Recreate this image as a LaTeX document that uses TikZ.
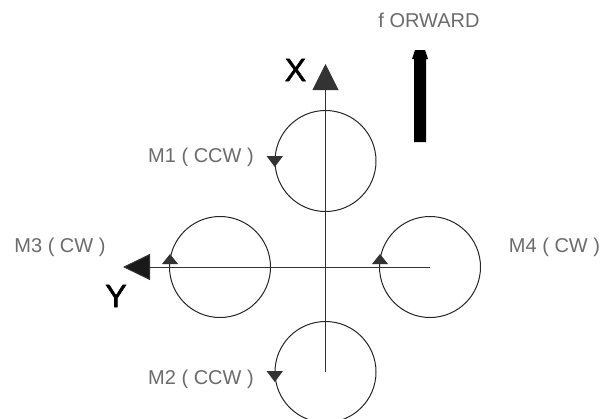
\documentclass[tikz,border=0pt]{standalone}
\usepackage{fontspec}
\setmainfont{Liberation Sans}
\usetikzlibrary{arrows.meta}
\definecolor{tipgray}{gray}{0.2}
\definecolor{labelgray}{gray}{0.42}
\tikzset{
	motor/.style={draw=black!85, line width=1pt, circle, inner sep=0pt, minimum size=101pt},
	axisline/.style={draw=black!80, line width=1pt},
	motorlabel/.style={text=labelgray, font=\fontsize{20}{22}\selectfont},
	axislabel/.style={font=\addfontfeature{FakeBold=1.6}\fontsize{32}{34}\selectfont}
}
\begin{document}
\begin{tikzpicture}[x=1pt, y=-1pt]
		\useasboundingbox (0,0) rectangle (607,418);
		\clip (0,0) rectangle (607,418);
		\node [motor] (m1) at (325.5,161) {};
		\node [motor] (m2) at (325.5,372) {};
		\node [motor] (m3) at (220,267) {};
		\node [motor] (m4) at (430,267) {};
		\coordinate (xtip) at (325.5,64);
		\coordinate (ytip) at (123,267);
		\coordinate (fwdbase) at (420,142);
		% body axes
		\draw [axisline, -{Triangle[length=26pt, width=26pt, fill=tipgray]}] (m2.center) -- (xtip);
		\draw [axisline, -{Triangle[length=27pt, width=26pt, fill=black!90]}] (m4.center) -- (ytip);
		% spin direction marks
		\fill [tipgray] (m1.west) ++(-8,-5) -- ++(16.5,0) -- ++(-8.2,11) -- cycle;
		\fill [tipgray] (m2.west) ++(-8,-1) -- ++(16.5,0) -- ++(-8.2,11) -- cycle;
		\fill [tipgray] (m3.west) ++(-7,-3) -- ++(16,0) -- ++(-8,-10) -- cycle;
		\fill [tipgray] (m4.west) ++(-7,-3) -- ++(16,0) -- ++(-8,-10) -- cycle;
		% forward arrow
		\fill [black] (fwdbase) ++(-6,0) -- (414,59) -- (412,59) -- (415,50) -- (425,50) -- (428,59) -- (426,59) -- (426,142) -- cycle;
		\node [motorlabel] (m1label) at (201,157) {M1 ( CCW )};
		\node [motorlabel] (m2label) at (201,379) {M2 ( CCW )};
		\node [motorlabel] (m3label) at (60,247) {M3 ( CW )};
		\node [motorlabel] (m4label) at (554.5,247) {M4 ( CW )};
		\node [motorlabel] (fwdlabel) at (429,20) {f ORWARD};
		\node [axislabel] (xlabel) at (295.5,70) {X};
		\node [axislabel] (ylabel) at (116,296) {Y};
	\end{tikzpicture}
\end{document}
